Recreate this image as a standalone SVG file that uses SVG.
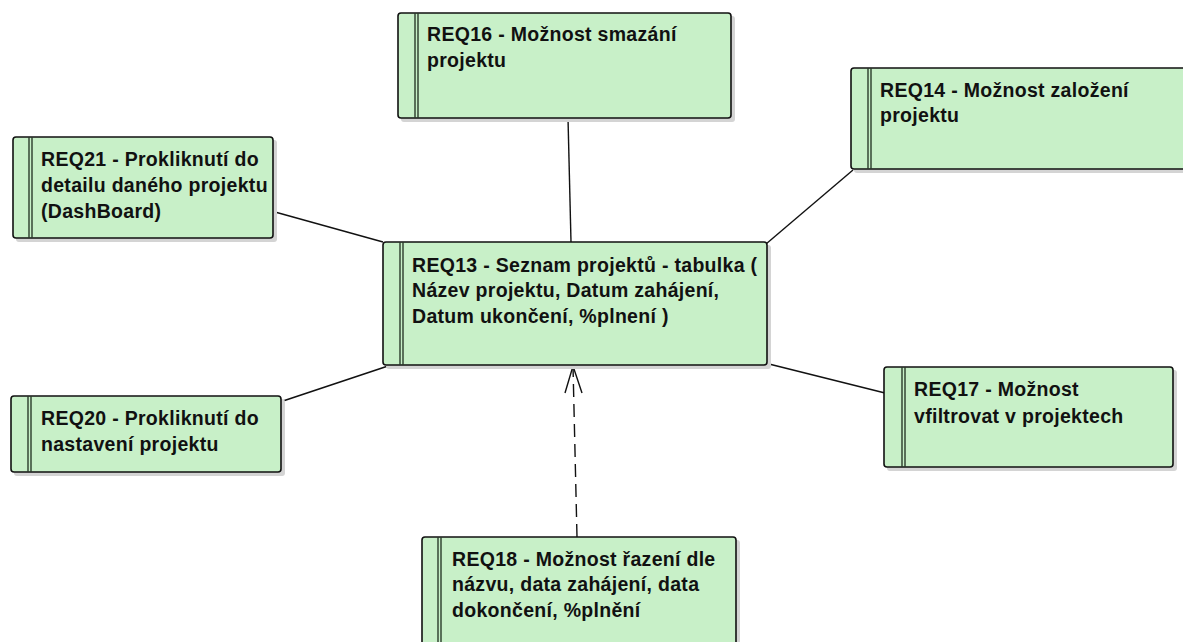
<svg xmlns="http://www.w3.org/2000/svg" width="1183" height="642" viewBox="0 0 1183 642">
  <style>
    .shadow { fill: #d4d4d4; }
    .box { fill: #c8f0c8; stroke: #111; stroke-width: 1.6; }
    .bar { stroke: #2a3a2a; stroke-width: 1.4; }
    .label { font-family: "Liberation Sans", Arial, sans-serif; font-weight: bold; font-size: 19.5px; letter-spacing: 0.3px; fill: #111; }
    .link { stroke: #111; stroke-width: 1.4; fill: none; }
    .dep { stroke: #111; stroke-width: 1.4; fill: none; stroke-dasharray: 13 7; }
  </style>

  <!-- connectors -->
  <g id="connectors">
    <line class="link" x1="568" y1="118" x2="571" y2="242"/>
    <line class="link" x1="275" y1="212" x2="383" y2="242"/>
    <line class="link" x1="766" y1="244" x2="853" y2="170"/>
    <line class="link" x1="280" y1="402" x2="388" y2="366"/>
    <line class="link" x1="765" y1="363" x2="885" y2="393"/>
    <line class="dep" x1="577" y1="537" x2="573" y2="366"/>
    <path d="M565 393 L573 366 L582 393" class="link"/>
  </g>

  <g id="req16">
    <rect class="shadow" x="401" y="16" width="334" height="106" rx="3"/>
    <rect class="box" x="398" y="13" width="333" height="105" rx="3"/>
    <line class="bar" x1="415" y1="13" x2="415" y2="118"/>
    <line class="bar" x1="418" y1="13" x2="418" y2="118"/>
    <text class="label" x="427" y="41">REQ16 - Možnost smazání</text>
    <text class="label" x="427" y="67">projektu</text>
  </g>

  <g id="req14">
    <rect class="shadow" x="854" y="71" width="340" height="102" rx="3"/>
    <rect class="box" x="851" y="68" width="340" height="101" rx="3"/>
    <line class="bar" x1="868" y1="68" x2="868" y2="169"/>
    <line class="bar" x1="871" y1="68" x2="871" y2="169"/>
    <text class="label" x="880" y="97">REQ14 - Možnost založení</text>
    <text class="label" x="880" y="122">projektu</text>
  </g>

  <g id="req21">
    <rect class="shadow" x="16" y="140" width="261" height="102" rx="3"/>
    <rect class="box" x="13" y="137" width="260" height="101" rx="3"/>
    <line class="bar" x1="29" y1="137" x2="29" y2="238"/>
    <line class="bar" x1="32" y1="137" x2="32" y2="238"/>
    <text class="label" x="41" y="166">REQ21 - Prokliknutí do</text>
    <text class="label" x="41" y="192">detailu daného projektu</text>
    <text class="label" x="41" y="218">(DashBoard)</text>
  </g>

  <g id="req13">
    <rect class="shadow" x="386" y="245" width="385" height="124" rx="3"/>
    <rect class="box" x="383" y="242" width="384" height="123" rx="3"/>
    <line class="bar" x1="400" y1="242" x2="400" y2="365"/>
    <line class="bar" x1="403" y1="242" x2="403" y2="365"/>
    <text class="label" x="412" y="272">REQ13 - Seznam projektů - tabulka (</text>
    <text class="label" x="412" y="297">Název projektu, Datum zahájení,</text>
    <text class="label" x="412" y="323">Datum ukončení, %plnení )</text>
  </g>

  <g id="req20">
    <rect class="shadow" x="14" y="399" width="271" height="77" rx="3"/>
    <rect class="box" x="11" y="396" width="270" height="76" rx="3"/>
    <line class="bar" x1="28" y1="396" x2="28" y2="472"/>
    <line class="bar" x1="31" y1="396" x2="31" y2="472"/>
    <text class="label" x="41" y="425">REQ20 - Prokliknutí do</text>
    <text class="label" x="41" y="451">nastavení projektu</text>
  </g>

  <g id="req17">
    <rect class="shadow" x="887" y="370" width="290" height="101" rx="3"/>
    <rect class="box" x="884" y="367" width="289" height="100" rx="3"/>
    <line class="bar" x1="902" y1="367" x2="902" y2="467"/>
    <line class="bar" x1="905" y1="367" x2="905" y2="467"/>
    <text class="label" x="914" y="396">REQ17 - Možnost</text>
    <text class="label" x="914" y="423">vfiltrovat v projektech</text>
  </g>

  <g id="req18">
    <rect class="shadow" x="425" y="540" width="315" height="124" rx="3"/>
    <rect class="box" x="422" y="537" width="314" height="123" rx="3"/>
    <line class="bar" x1="438" y1="537" x2="438" y2="660"/>
    <line class="bar" x1="441" y1="537" x2="441" y2="660"/>
    <text class="label" x="452" y="566">REQ18 - Možnost řazení dle</text>
    <text class="label" x="452" y="591">názvu, data zahájení, data</text>
    <text class="label" x="452" y="617">dokončení, %plnění</text>
  </g>
</svg>
